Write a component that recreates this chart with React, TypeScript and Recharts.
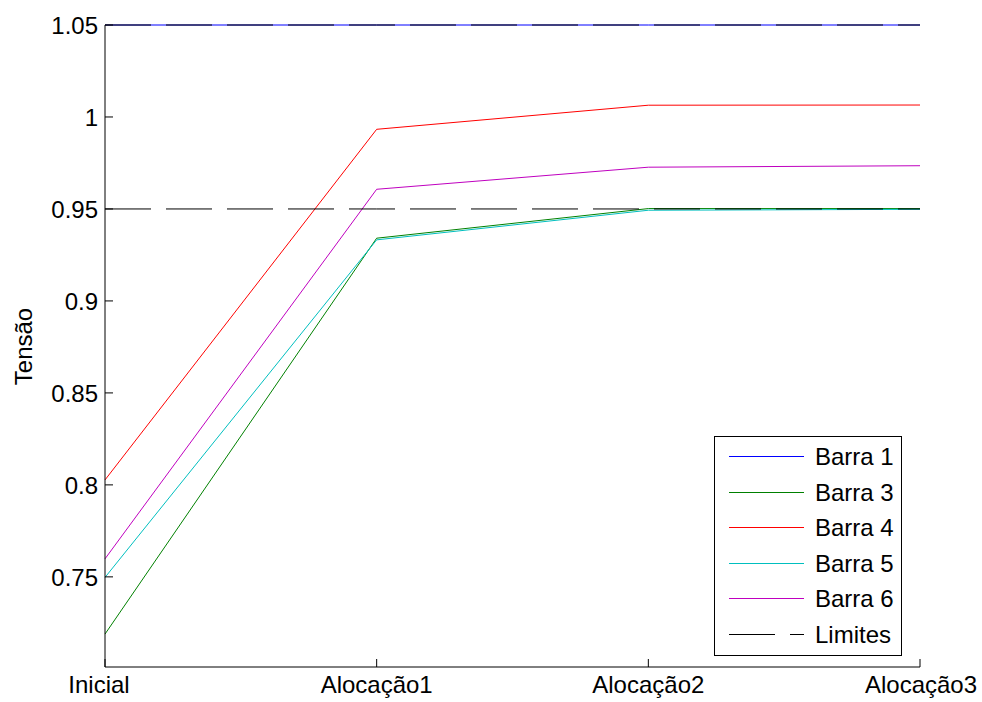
import React from "react";
import { LineChart, Line, XAxis, YAxis, Label } from "recharts";

const categories = ["Inicial", "Alocação1", "Alocação2", "Alocação3"];
const barra1 = [1.05, 1.05, 1.05, 1.05];
const barra3 = [0.7189, 0.9341, 0.9502, 0.9502];
const barra4 = [0.8027, 0.9933, 1.0064, 1.0065];
const barra5 = [0.7497, 0.9332, 0.9493, 0.9498];
const barra6 = [0.7598, 0.9607, 0.9727, 0.9735];
const limiteInferior = [0.95, 0.95, 0.95, 0.95];
const limiteSuperior = [1.05, 1.05, 1.05, 1.05];
const yTicks = [0.75, 0.8, 0.85, 0.9, 0.95, 1, 1.05];
const xTicks = [0, 1, 2, 3];

const series = [
  { key: "b1", name: "Barra 1", values: barra1, color: "#0000FF" },
  { key: "b3", name: "Barra 3", values: barra3, color: "#008000" },
  { key: "b4", name: "Barra 4", values: barra4, color: "#FF0000" },
  { key: "b5", name: "Barra 5", values: barra5, color: "#00BFBF" },
  { key: "b6", name: "Barra 6", values: barra6, color: "#BF00BF" },
];
const LIM_DASH = "46 15";

const data = categories.map((c, i) => ({
  x: i,
  b1: barra1[i],
  b3: barra3[i],
  b4: barra4[i],
  b5: barra5[i],
  b6: barra6[i],
  limInf: limiteInferior[i],
  limSup: limiteSuperior[i],
}));

const FONT = "'Liberation Sans', Arial, sans-serif";
const FS = 24;
const TICK_LEN = 8;

const BottomTick = (props: any) => {
  const { x, y, payload } = props;
  const shift = payload.value === 0 ? -6 : payload.value === 3 ? 1 : 0;
  return (
    <g>
      <line x1={x} y1={y} x2={x} y2={y - TICK_LEN} stroke="#000" strokeWidth={1} />
      <text x={x + shift} y={y + 26} textAnchor="middle" fontFamily={FONT} fontSize={FS} fill="#000">
        {categories[payload.value]}
      </text>
    </g>
  );
};

const TopTick = (props: any) => {
  const { x, y } = props;
  return <line x1={x} y1={y} x2={x} y2={y + TICK_LEN} stroke="#000" strokeWidth={1} />;
};

const LeftTick = (props: any) => {
  const { x, y, payload } = props;
  return (
    <g>
      <line x1={x} y1={y} x2={x + TICK_LEN} y2={y} stroke="#000" strokeWidth={1} />
      <text x={x - 7} y={y} dy="0.36em" textAnchor="end" fontFamily={FONT} fontSize={FS} fill="#000">
        {String(payload.value)}
      </text>
    </g>
  );
};

const RightTick = (props: any) => {
  const { x, y } = props;
  return <line x1={x} y1={y} x2={x - TICK_LEN} y2={y} stroke="#000" strokeWidth={1} />;
};

const renderYLabel = () => (
  <text
    x={24}
    y={338.5}
    transform="rotate(-90, 24, 338.5)"
    textAnchor="middle"
    fontFamily={FONT}
    fontSize={FS}
    fill="#000"
  >
    Tensão
  </text>
);

const legendItems = [
  ...series.map((s) => ({ name: s.name, color: s.color, dash: undefined as string | undefined })),
  { name: "Limites", color: "#000000", dash: LIM_DASH },
];

const Legend = () => (
  <svg width={190} height={222} style={{ position: "absolute", left: 705, top: 427 }}>
    <rect x={1.5} y={1.5} width={187} height={219} fill="#fff" stroke="#000" strokeWidth={1} />
    {legendItems.map((it, i) => {
      const y = 21.5 + Math.round(i * 35.5);
      return (
        <g key={it.name}>
          <line x1={16} y1={y} x2={91} y2={y} stroke={it.color} strokeWidth={1} strokeDasharray={it.dash} />
          <text x={102} y={y} dy="0.36em" fontFamily={FONT} fontSize={FS} fill="#000">
            {it.name}
          </text>
        </g>
      );
    })}
  </svg>
);

export default function App() {
  return (
    <div style={{ position: "absolute", left: 8, top: 8, width: 974, height: 690, background: "#fff" }}>
      <LineChart
        width={974}
        height={690}
        data={data}
        margin={{ top: 17, right: 62, bottom: 1, left: 0 }}
      >
        <XAxis
          xAxisId="bottom"
          dataKey="x"
          type="number"
          domain={[0, 3]}
          ticks={xTicks}
          interval={0}
          height={30}
          tickSize={0}
          tickMargin={0}
          tick={BottomTick}
          axisLine={{ stroke: "#000", strokeWidth: 1 }}
          tickLine={false}
        />
        <XAxis
          xAxisId="top"
          orientation="top"
          dataKey="x"
          type="number"
          domain={[0, 3]}
          ticks={xTicks}
          interval={0}
          height={0}
          tickSize={0}
          tickMargin={0}
          tick={TopTick}
          axisLine={{ stroke: "#000", strokeWidth: 1 }}
          tickLine={false}
        />
        <YAxis
          yAxisId="left"
          type="number"
          domain={[0.701, 1.05]}
          ticks={yTicks}
          interval={0}
          width={97}
          tickSize={0}
          tickMargin={0}
          tick={LeftTick}
          axisLine={{ stroke: "#000", strokeWidth: 1 }}
          tickLine={false}
        >
          <Label content={renderYLabel} />
        </YAxis>
        <YAxis
          yAxisId="right"
          orientation="right"
          type="number"
          domain={[0.701, 1.05]}
          ticks={yTicks}
          interval={0}
          width={0}
          tickSize={0}
          tickMargin={0}
          tick={RightTick}
          axisLine={{ stroke: "#000", strokeWidth: 1 }}
          tickLine={false}
        />
        {series.map((s) => (
          <Line
            key={s.key}
            xAxisId="bottom"
            yAxisId="left"
            type="linear"
            dataKey={s.key}
            name={s.name}
            stroke={s.color}
            strokeWidth={1}
            dot={false}
            activeDot={false}
            isAnimationActive={false}
          />
        ))}
        <Line
          xAxisId="bottom"
          yAxisId="left"
          type="linear"
          dataKey="limInf"
          name="Limites"
          stroke="#000"
          strokeWidth={1}
          strokeDasharray={LIM_DASH}
          dot={false}
          activeDot={false}
          isAnimationActive={false}
        />
        <Line
          xAxisId="bottom"
          yAxisId="left"
          type="linear"
          dataKey="limSup"
          name="Limites"
          stroke="#000"
          strokeWidth={1}
          strokeDasharray={LIM_DASH}
          dot={false}
          activeDot={false}
          isAnimationActive={false}
        />
      </LineChart>
      <Legend />
    </div>
  );
}
